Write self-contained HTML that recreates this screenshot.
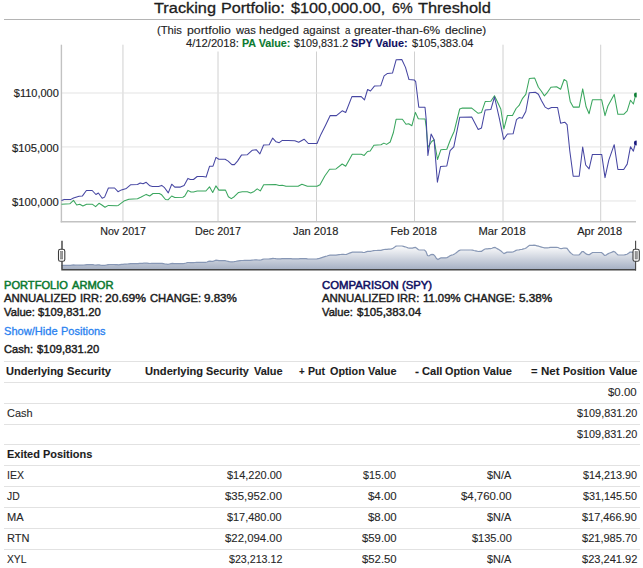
<!DOCTYPE html>
<html lang="en"><head><meta charset="utf-8"><title>Tracking Portfolio</title>
<style>
html,body{margin:0;padding:0;background:#fff}
body{width:643px;height:568px;overflow:hidden;position:relative;font-family:"Liberation Sans",Arial,Helvetica,sans-serif;color:#222}
.g{position:absolute;left:0;top:0;margin:0;font-weight:normal;text-decoration:none;display:block;line-height:1}
.g span,.row span{position:absolute;top:0;white-space:pre;line-height:1;transform-origin:0 0}
.g b,.row b{font-weight:bold}
hr{position:absolute;left:3.7px;top:19px;width:636.4px;height:1px;margin:0;border:0;background:#b4b4b4}
#chart{position:absolute;left:0;top:0}
#positions{display:block;position:absolute;left:0;top:0;font-size:10.8px;color:#272727;border-spacing:0;-webkit-text-stroke:0.1px}
thead,tbody{display:block}
th,td{display:block;padding:0;margin:0;height:0;font-weight:inherit}
.row{display:block;position:absolute;left:3.7px;width:636.0px;height:20.85px;border-top:1px solid #e2e2e2;box-sizing:border-box}
.row.hd,.row .b{font-weight:bold;color:#1d1d1d}
</style></head>
<body>
<svg id="chart" width="643" height="280" viewBox="0 0 643 280" font-family="Liberation Sans, Arial, sans-serif">
<defs><linearGradient id="rg" x1="0" y1="0" x2="0" y2="1"><stop offset="0" stop-color="#ffffff"/><stop offset="1" stop-color="#a7b1c4"/></linearGradient></defs>
<line x1="122.95" y1="44.7" x2="122.95" y2="221.5" stroke="#d0d0d0" stroke-width="1"/>
<line x1="218.0" y1="44.7" x2="218.0" y2="221.5" stroke="#d0d0d0" stroke-width="1"/>
<line x1="316.5" y1="44.7" x2="316.5" y2="221.5" stroke="#d0d0d0" stroke-width="1"/>
<line x1="414.5" y1="44.7" x2="414.5" y2="221.5" stroke="#d0d0d0" stroke-width="1"/>
<line x1="503.0" y1="44.7" x2="503.0" y2="221.5" stroke="#d0d0d0" stroke-width="1"/>
<line x1="600.7" y1="44.7" x2="600.7" y2="221.5" stroke="#d0d0d0" stroke-width="1"/>
<line x1="61.5" y1="93.0" x2="636" y2="93.0" stroke="#e3e3e3" stroke-width="1"/>
<line x1="61.5" y1="146.95" x2="636" y2="146.95" stroke="#e3e3e3" stroke-width="1"/>
<line x1="61.5" y1="200.97" x2="636" y2="200.97" stroke="#e3e3e3" stroke-width="1"/>
<rect x="180" y="38" width="300" height="13.5" fill="#fff"/>
<line x1="61.4" y1="44.7" x2="61.4" y2="222.4" stroke="#c2c2c2" stroke-width="1.4"/>
<line x1="60.7" y1="221.8" x2="636" y2="221.8" stroke="#c2c2c2" stroke-width="1.4"/>
<polyline fill="none" stroke="#3aa65e" stroke-width="1.05" stroke-linejoin="round" points="61.5,204.2 69.8,203.8 73.5,200.4 76.7,205.0 79.8,204.2 82.9,206.0 86.6,204.2 92.2,204.2 95.6,206.7 99.0,203.3 101.5,204.8 105.0,207.3 108.4,205.4 116.5,205.8 118.3,205.4 123.9,201.1 128.9,199.2 137.5,198.8 141.2,197.0 146.2,194.4 149.7,196.0 153.0,193.5 159.3,193.5 161.7,194.8 165.5,199.5 168.0,199.8 171.7,196.0 174.8,197.5 182.9,197.3 184.8,196.0 187.9,190.4 191.0,192.0 193.5,192.0 197.2,191.0 205.9,191.0 209.5,186.8 212.7,192.5 215.9,185.9 218.9,190.1 225.5,190.1 228.4,196.7 231.3,198.6 234.2,196.7 238.6,192.4 242.3,191.8 247.3,191.8 250.7,193.0 254.1,191.4 257.2,188.9 260.3,190.9 263.7,184.7 275.6,184.5 279.2,185.6 282.3,185.2 286.0,186.2 298.1,186.3 301.9,184.3 307.4,186.3 317.0,186.3 320.0,184.7 324.8,176.0 329.6,169.2 336.0,168.9 342.2,164.0 345.7,166.3 352.3,154.3 361.2,154.3 364.2,155.4 367.5,151.5 370.2,151.0 373.9,145.2 381.0,144.8 383.9,143.1 386.6,144.4 390.2,142.0 393.4,132.5 396.1,119.3 402.4,119.3 406.0,124.2 408.7,123.8 411.9,125.7 415.4,112.4 418.3,118.7 425.1,119.0 426.2,126.9 427.9,147.5 431.7,141.5 434.1,139.8 437.5,159.5 440.9,149.7 446.8,149.3 450.5,139.5 454.2,131.2 459.7,109.0 462.5,108.1 471.7,108.1 478.2,113.3 481.5,112.4 485.2,101.6 490.8,101.3 494.5,95.7 500.8,109.0 503.9,128.8 507.4,115.5 512.5,115.6 516.1,108.5 519.1,105.4 522.6,98.3 525.8,94.3 529.3,78.5 534.7,78.1 538.4,87.2 541.4,91.3 544.4,95.9 547.5,92.3 550.9,87.2 556.6,86.8 560.6,89.2 564.1,79.5 566.7,81.1 570.2,101.4 573.2,107.1 579.2,107.1 582.7,88.9 586.1,106.8 589.1,113.7 592.4,99.8 601.7,99.8 605.0,115.7 607.9,106.0 614.2,94.4 617.9,114.3 623.7,114.3 627.2,110.8 630.5,100.2 633.4,104.0 635.5,95.3"/>
<polyline fill="none" stroke="#4646a2" stroke-width="1.05" stroke-linejoin="round" points="61.5,200.6 64.2,199.4 70.4,199.6 73.5,198.0 79.1,196.3 82.3,196.1 86.4,190.5 92.2,190.5 95.9,194.5 98.4,193.0 102.2,198.3 104.6,197.1 108.4,188.0 114.6,188.0 118.0,191.7 121.4,189.9 126.4,188.4 130.8,184.7 137.5,184.5 140.2,183.0 143.1,183.8 146.2,182.3 149.9,185.8 152.4,186.4 158.6,186.4 161.7,185.4 164.2,187.3 168.3,192.9 171.7,184.2 174.8,187.1 180.4,187.1 184.1,185.4 187.9,178.4 190.3,179.5 193.5,179.5 197.2,176.5 202.8,176.5 206.1,177.1 209.6,166.2 213.0,166.2 216.0,157.4 218.8,159.3 225.1,159.3 228.2,161.1 231.9,164.6 234.4,164.6 237.5,161.1 241.6,154.9 247.4,154.7 252.4,150.2 256.2,149.7 259.9,153.9 263.6,145.0 269.2,144.7 272.7,138.1 276.1,141.8 279.2,142.7 282.3,140.4 288.0,140.6 294.8,140.8 298.7,142.3 304.1,139.2 308.3,143.5 317.0,143.5 320.9,134.4 325.8,124.7 330.2,115.6 336.4,115.6 342.2,110.8 345.7,112.5 351.9,96.6 361.2,96.6 364.5,99.9 367.6,89.5 370.5,91.0 374.4,86.1 380.7,85.8 384.1,75.9 387.5,73.4 392.5,73.1 396.2,59.7 401.8,59.5 405.5,67.4 409.0,79.6 414.2,79.9 415.7,81.7 418.8,107.2 425.0,107.2 426.2,119.4 427.9,155.5 431.1,134.1 434.1,139.8 437.4,182.2 440.6,166.4 446.8,166.0 450.1,150.6 453.8,146.9 459.7,117.3 471.7,117.0 478.2,129.4 481.5,127.9 485.2,110.0 490.8,109.6 494.5,97.0 499.5,119.2 503.7,139.5 507.4,134.0 513.1,133.8 516.5,119.6 519.1,117.6 522.2,118.2 525.8,111.5 529.3,92.7 535.3,92.3 538.4,94.3 541.4,100.4 545.1,107.1 548.1,108.9 551.5,107.5 557.6,107.5 560.6,123.2 564.7,122.2 567.1,124.7 569.8,151.0 573.2,176.3 579.2,176.3 582.7,147.0 585.7,165.0 589.1,168.9 592.4,154.4 601.7,154.4 605.0,177.6 608.8,160.2 614.2,144.7 617.9,169.5 623.7,169.5 627.2,164.1 630.5,146.7 633.4,151.1 635.5,142.8"/>
<clipPath id="pc"><rect x="61" y="44" width="575.7" height="178"/></clipPath>
<g clip-path="url(#pc)"><circle cx="636.3" cy="95.0" r="2.4" fill="#0f7f36"/><circle cx="636.3" cy="143.0" r="2.4" fill="#17177c"/></g>
<text x="13.8" y="97.4" font-size="10.6" fill="#1d1d1d" stroke="#1d1d1d" stroke-width="0.15" textLength="45.0" lengthAdjust="spacingAndGlyphs">$110,000</text>
<text x="12.0" y="151.5" font-size="10.6" fill="#1d1d1d" stroke="#1d1d1d" stroke-width="0.15" textLength="46.8" lengthAdjust="spacingAndGlyphs">$105,000</text>
<text x="12.0" y="205.5" font-size="10.6" fill="#1d1d1d" stroke="#1d1d1d" stroke-width="0.15" textLength="46.8" lengthAdjust="spacingAndGlyphs">$100,000</text>
<text x="100.2" y="235.3" font-size="10.6" fill="#1d1d1d" stroke="#1d1d1d" stroke-width="0.15" textLength="45.8" lengthAdjust="spacingAndGlyphs">Nov 2017</text>
<text x="195.0" y="235.3" font-size="10.6" fill="#1d1d1d" stroke="#1d1d1d" stroke-width="0.15" textLength="46.1" lengthAdjust="spacingAndGlyphs">Dec 2017</text>
<text x="292.9" y="235.3" font-size="10.6" fill="#1d1d1d" stroke="#1d1d1d" stroke-width="0.15" textLength="45.4" lengthAdjust="spacingAndGlyphs">Jan 2018</text>
<text x="390.4" y="235.3" font-size="10.6" fill="#1d1d1d" stroke="#1d1d1d" stroke-width="0.15" textLength="46.5" lengthAdjust="spacingAndGlyphs">Feb 2018</text>
<text x="478.5" y="235.3" font-size="10.6" fill="#1d1d1d" stroke="#1d1d1d" stroke-width="0.15" textLength="47.3" lengthAdjust="spacingAndGlyphs">Mar 2018</text>
<text x="577.2" y="235.3" font-size="10.6" fill="#1d1d1d" stroke="#1d1d1d" stroke-width="0.15" textLength="44.9" lengthAdjust="spacingAndGlyphs">Apr 2018</text>
<polygon points="61.5,269 61.5,265.5 63.0,265.4 64.5,265.4 66.0,265.4 67.5,265.4 69.0,265.4 70.5,265.3 72.0,265.1 73.5,264.9 75.0,265.1 76.5,265.2 78.0,265.2 79.5,265.1 81.0,265.2 82.5,265.2 84.0,265.0 85.5,264.8 87.0,264.6 88.5,264.6 90.0,264.6 91.5,264.6 93.0,264.7 94.5,265.0 96.0,265.1 97.5,264.9 99.0,264.8 100.5,265.1 102.0,265.3 103.5,265.4 105.0,265.4 106.5,265.0 108.0,264.6 109.5,264.5 111.0,264.5 112.5,264.5 114.0,264.5 115.5,264.6 117.0,264.7 118.5,264.8 120.0,264.6 121.5,264.4 123.0,264.3 124.5,264.2 126.0,264.1 127.5,264.0 129.0,263.8 130.5,263.7 132.0,263.7 133.5,263.6 135.0,263.6 136.5,263.6 138.0,263.6 139.5,263.4 141.0,263.4 142.5,263.3 144.0,263.2 145.5,263.1 147.0,263.1 148.5,263.3 150.0,263.5 151.5,263.4 153.0,263.3 154.5,263.3 156.0,263.3 157.5,263.3 159.0,263.3 160.5,263.3 162.0,263.4 163.5,263.7 165.0,264.0 166.5,264.2 168.0,264.4 169.5,264.0 171.0,263.6 172.5,263.4 174.0,263.6 175.5,263.7 177.0,263.7 178.5,263.7 180.0,263.7 181.5,263.7 183.0,263.6 184.5,263.4 186.0,263.0 187.5,262.5 189.0,262.5 190.5,262.6 192.0,262.6 193.5,262.6 195.0,262.5 196.5,262.3 198.0,262.3 199.5,262.3 201.0,262.3 202.5,262.3 204.0,262.3 205.5,262.3 207.0,262.0 208.5,261.4 210.0,261.1 211.5,261.3 213.0,261.4 214.5,260.8 216.0,260.2 217.5,260.4 219.0,260.7 220.5,260.7 222.0,260.7 223.5,260.7 225.0,260.7 226.5,261.0 228.0,261.3 229.5,261.6 231.0,261.8 232.5,261.8 234.0,261.7 235.5,261.5 237.0,261.2 238.5,260.9 240.0,260.7 241.5,260.5 243.0,260.5 244.5,260.4 246.0,260.4 247.5,260.4 249.0,260.4 250.5,260.3 252.0,260.1 253.5,260.0 255.0,259.9 256.5,259.8 258.0,260.0 259.5,260.2 261.0,260.0 262.5,259.4 264.0,259.0 265.5,259.0 267.0,259.0 268.5,259.0 270.0,258.8 271.5,258.6 273.0,258.4 274.5,258.5 276.0,258.7 277.5,258.8 279.0,258.9 280.5,258.8 282.0,258.7 283.5,258.7 285.0,258.7 286.5,258.7 288.0,258.7 289.5,258.7 291.0,258.7 292.5,258.8 294.0,258.8 295.5,258.8 297.0,258.8 298.5,258.9 300.0,258.7 301.5,258.6 303.0,258.5 304.5,258.6 306.0,258.7 307.5,258.9 309.0,259.0 310.5,259.0 312.0,259.0 313.5,259.0 315.0,259.0 316.5,259.0 318.0,258.7 319.5,258.4 321.0,257.9 322.5,257.4 324.0,256.9 325.5,256.4 327.0,256.0 328.5,255.5 330.0,255.1 331.5,255.1 333.0,255.1 334.5,255.1 336.0,255.1 337.5,254.9 339.0,254.7 340.5,254.5 342.0,254.3 343.5,254.4 345.0,254.5 346.5,254.3 348.0,253.7 349.5,253.1 351.0,252.6 352.5,252.2 354.0,252.2 355.5,252.2 357.0,252.2 358.5,252.2 360.0,252.2 361.5,252.2 363.0,252.4 364.5,252.5 366.0,251.9 367.5,251.4 369.0,251.4 370.5,251.4 372.0,251.0 373.5,250.6 375.0,250.5 376.5,250.5 378.0,250.4 379.5,250.4 381.0,250.3 382.5,249.9 384.0,249.5 385.5,249.4 387.0,249.3 388.5,249.2 390.0,249.1 391.5,248.8 393.0,248.2 394.5,247.2 396.0,246.1 397.5,246.0 399.0,246.0 400.5,246.0 402.0,246.0 403.5,246.4 405.0,246.8 406.5,247.3 408.0,247.8 409.5,248.1 411.0,248.2 412.5,248.1 414.0,247.6 415.5,247.3 417.0,248.5 418.5,249.8 420.0,250.0 421.5,250.0 423.0,250.0 424.5,250.0 426.0,251.5 427.5,255.5 429.0,255.9 430.5,254.8 432.0,254.4 433.5,254.6 435.0,256.1 436.5,258.5 438.0,259.6 439.5,258.6 441.0,257.8 442.5,257.8 444.0,257.8 445.5,257.8 447.0,257.6 448.5,256.7 450.0,255.7 451.5,255.2 453.0,254.8 454.5,254.1 456.0,252.9 457.5,251.8 459.0,250.6 460.5,250.0 462.0,250.0 463.5,250.0 465.0,250.0 466.5,250.0 468.0,250.0 469.5,250.0 471.0,250.0 472.5,250.1 474.0,250.5 475.5,250.8 477.0,251.2 478.5,251.5 480.0,251.4 481.5,251.3 483.0,250.3 484.5,249.3 486.0,248.8 487.5,248.8 489.0,248.7 490.5,248.7 492.0,248.2 493.5,247.6 495.0,247.4 496.5,248.3 498.0,249.1 499.5,250.0 501.0,251.0 502.5,252.4 504.0,253.6 505.5,252.9 507.0,252.2 508.5,252.1 510.0,252.1 511.5,252.1 513.0,252.0 514.5,251.2 516.0,250.4 517.5,250.0 519.0,249.8 520.5,249.5 522.0,249.3 523.5,248.9 525.0,248.5 526.5,247.7 528.0,246.4 529.5,245.3 531.0,245.3 532.5,245.3 534.0,245.2 535.5,245.4 537.0,245.8 538.5,246.2 540.0,246.7 541.5,247.1 543.0,247.5 544.5,247.9 546.0,247.9 547.5,247.9 549.0,247.7 550.5,247.4 552.0,247.3 553.5,247.3 555.0,247.3 556.5,247.3 558.0,247.5 559.5,248.3 561.0,248.7 562.5,248.4 564.0,248.0 565.5,248.1 567.0,248.4 568.5,250.4 570.0,252.3 571.5,253.6 573.0,254.8 574.5,255.0 576.0,255.0 577.5,255.0 579.0,255.0 580.5,253.5 582.0,251.7 583.5,251.7 585.0,253.1 586.5,254.1 588.0,254.6 589.5,254.6 591.0,253.5 592.5,252.5 594.0,252.5 595.5,252.5 597.0,252.5 598.5,252.5 600.0,252.5 601.5,252.5 603.0,253.8 604.5,255.3 606.0,255.2 607.5,254.1 609.0,253.3 610.5,252.7 612.0,252.1 613.5,251.4 615.0,252.0 616.5,253.6 618.0,255.0 619.5,255.0 621.0,255.0 622.5,255.0 624.0,255.0 625.5,254.6 627.0,254.3 628.5,253.3 630.0,252.2 631.5,252.1 633.0,252.4 634.5,251.8 635.5,269" fill="url(#rg)"/>
<polyline points="61.5,265.5 63.0,265.4 64.5,265.4 66.0,265.4 67.5,265.4 69.0,265.4 70.5,265.3 72.0,265.1 73.5,264.9 75.0,265.1 76.5,265.2 78.0,265.2 79.5,265.1 81.0,265.2 82.5,265.2 84.0,265.0 85.5,264.8 87.0,264.6 88.5,264.6 90.0,264.6 91.5,264.6 93.0,264.7 94.5,265.0 96.0,265.1 97.5,264.9 99.0,264.8 100.5,265.1 102.0,265.3 103.5,265.4 105.0,265.4 106.5,265.0 108.0,264.6 109.5,264.5 111.0,264.5 112.5,264.5 114.0,264.5 115.5,264.6 117.0,264.7 118.5,264.8 120.0,264.6 121.5,264.4 123.0,264.3 124.5,264.2 126.0,264.1 127.5,264.0 129.0,263.8 130.5,263.7 132.0,263.7 133.5,263.6 135.0,263.6 136.5,263.6 138.0,263.6 139.5,263.4 141.0,263.4 142.5,263.3 144.0,263.2 145.5,263.1 147.0,263.1 148.5,263.3 150.0,263.5 151.5,263.4 153.0,263.3 154.5,263.3 156.0,263.3 157.5,263.3 159.0,263.3 160.5,263.3 162.0,263.4 163.5,263.7 165.0,264.0 166.5,264.2 168.0,264.4 169.5,264.0 171.0,263.6 172.5,263.4 174.0,263.6 175.5,263.7 177.0,263.7 178.5,263.7 180.0,263.7 181.5,263.7 183.0,263.6 184.5,263.4 186.0,263.0 187.5,262.5 189.0,262.5 190.5,262.6 192.0,262.6 193.5,262.6 195.0,262.5 196.5,262.3 198.0,262.3 199.5,262.3 201.0,262.3 202.5,262.3 204.0,262.3 205.5,262.3 207.0,262.0 208.5,261.4 210.0,261.1 211.5,261.3 213.0,261.4 214.5,260.8 216.0,260.2 217.5,260.4 219.0,260.7 220.5,260.7 222.0,260.7 223.5,260.7 225.0,260.7 226.5,261.0 228.0,261.3 229.5,261.6 231.0,261.8 232.5,261.8 234.0,261.7 235.5,261.5 237.0,261.2 238.5,260.9 240.0,260.7 241.5,260.5 243.0,260.5 244.5,260.4 246.0,260.4 247.5,260.4 249.0,260.4 250.5,260.3 252.0,260.1 253.5,260.0 255.0,259.9 256.5,259.8 258.0,260.0 259.5,260.2 261.0,260.0 262.5,259.4 264.0,259.0 265.5,259.0 267.0,259.0 268.5,259.0 270.0,258.8 271.5,258.6 273.0,258.4 274.5,258.5 276.0,258.7 277.5,258.8 279.0,258.9 280.5,258.8 282.0,258.7 283.5,258.7 285.0,258.7 286.5,258.7 288.0,258.7 289.5,258.7 291.0,258.7 292.5,258.8 294.0,258.8 295.5,258.8 297.0,258.8 298.5,258.9 300.0,258.7 301.5,258.6 303.0,258.5 304.5,258.6 306.0,258.7 307.5,258.9 309.0,259.0 310.5,259.0 312.0,259.0 313.5,259.0 315.0,259.0 316.5,259.0 318.0,258.7 319.5,258.4 321.0,257.9 322.5,257.4 324.0,256.9 325.5,256.4 327.0,256.0 328.5,255.5 330.0,255.1 331.5,255.1 333.0,255.1 334.5,255.1 336.0,255.1 337.5,254.9 339.0,254.7 340.5,254.5 342.0,254.3 343.5,254.4 345.0,254.5 346.5,254.3 348.0,253.7 349.5,253.1 351.0,252.6 352.5,252.2 354.0,252.2 355.5,252.2 357.0,252.2 358.5,252.2 360.0,252.2 361.5,252.2 363.0,252.4 364.5,252.5 366.0,251.9 367.5,251.4 369.0,251.4 370.5,251.4 372.0,251.0 373.5,250.6 375.0,250.5 376.5,250.5 378.0,250.4 379.5,250.4 381.0,250.3 382.5,249.9 384.0,249.5 385.5,249.4 387.0,249.3 388.5,249.2 390.0,249.1 391.5,248.8 393.0,248.2 394.5,247.2 396.0,246.1 397.5,246.0 399.0,246.0 400.5,246.0 402.0,246.0 403.5,246.4 405.0,246.8 406.5,247.3 408.0,247.8 409.5,248.1 411.0,248.2 412.5,248.1 414.0,247.6 415.5,247.3 417.0,248.5 418.5,249.8 420.0,250.0 421.5,250.0 423.0,250.0 424.5,250.0 426.0,251.5 427.5,255.5 429.0,255.9 430.5,254.8 432.0,254.4 433.5,254.6 435.0,256.1 436.5,258.5 438.0,259.6 439.5,258.6 441.0,257.8 442.5,257.8 444.0,257.8 445.5,257.8 447.0,257.6 448.5,256.7 450.0,255.7 451.5,255.2 453.0,254.8 454.5,254.1 456.0,252.9 457.5,251.8 459.0,250.6 460.5,250.0 462.0,250.0 463.5,250.0 465.0,250.0 466.5,250.0 468.0,250.0 469.5,250.0 471.0,250.0 472.5,250.1 474.0,250.5 475.5,250.8 477.0,251.2 478.5,251.5 480.0,251.4 481.5,251.3 483.0,250.3 484.5,249.3 486.0,248.8 487.5,248.8 489.0,248.7 490.5,248.7 492.0,248.2 493.5,247.6 495.0,247.4 496.5,248.3 498.0,249.1 499.5,250.0 501.0,251.0 502.5,252.4 504.0,253.6 505.5,252.9 507.0,252.2 508.5,252.1 510.0,252.1 511.5,252.1 513.0,252.0 514.5,251.2 516.0,250.4 517.5,250.0 519.0,249.8 520.5,249.5 522.0,249.3 523.5,248.9 525.0,248.5 526.5,247.7 528.0,246.4 529.5,245.3 531.0,245.3 532.5,245.3 534.0,245.2 535.5,245.4 537.0,245.8 538.5,246.2 540.0,246.7 541.5,247.1 543.0,247.5 544.5,247.9 546.0,247.9 547.5,247.9 549.0,247.7 550.5,247.4 552.0,247.3 553.5,247.3 555.0,247.3 556.5,247.3 558.0,247.5 559.5,248.3 561.0,248.7 562.5,248.4 564.0,248.0 565.5,248.1 567.0,248.4 568.5,250.4 570.0,252.3 571.5,253.6 573.0,254.8 574.5,255.0 576.0,255.0 577.5,255.0 579.0,255.0 580.5,253.5 582.0,251.7 583.5,251.7 585.0,253.1 586.5,254.1 588.0,254.6 589.5,254.6 591.0,253.5 592.5,252.5 594.0,252.5 595.5,252.5 597.0,252.5 598.5,252.5 600.0,252.5 601.5,252.5 603.0,253.8 604.5,255.3 606.0,255.2 607.5,254.1 609.0,253.3 610.5,252.7 612.0,252.1 613.5,251.4 615.0,252.0 616.5,253.6 618.0,255.0 619.5,255.0 621.0,255.0 622.5,255.0 624.0,255.0 625.5,254.6 627.0,254.3 628.5,253.3 630.0,252.2 631.5,252.1 633.0,252.4 634.5,251.8" fill="none" stroke="#8797b5" stroke-width="1.2"/>
<polyline points="62.0,240.8 62.0,269.8 636.0,269.8" fill="none" stroke="#454545" stroke-width="1.45"/>
<line x1="635.6" y1="240.8" x2="635.6" y2="270.5" stroke="#454545" stroke-width="1.1"/>
<rect x="58.5" y="249.3" width="6.3" height="12" rx="1.9" fill="#fff" stroke="#3c3c3c" stroke-width="1.1"/>
<rect x="60.55" y="251.6" width="2.2" height="7.4" fill="#9c9c9c" stroke="#6c6c6c" stroke-width="0.5"/>
<rect x="633.0" y="249.3" width="6.3" height="12" rx="1.9" fill="#fff" stroke="#3c3c3c" stroke-width="1.1"/>
<rect x="635.05" y="251.6" width="2.2" height="7.4" fill="#9c9c9c" stroke="#6c6c6c" stroke-width="0.5"/>
</svg>
<h2 id="title" class="g" style="top:-0.07px;font-size:15.2px;color:#1d1d1d;-webkit-text-stroke:0.3px;"><span style="left:154.33px;transform:scaleX(1.0751)">Tracking </span><span style="left:221.47px;transform:scaleX(1.0628)">Portfolio: </span><span style="left:290.83px;transform:scaleX(1.0624)">$100,000.00, </span><span style="left:391.97px;transform:scaleX(0.9399)">6% </span><span style="left:417.93px;transform:scaleX(1.0781)">Threshold</span></h2>
<hr>
<div id="sub1" class="g" style="top:24.76px;font-size:10.8px;color:#222;-webkit-text-stroke:0.12px;"><span style="left:157.30px;transform:scaleX(1.0418)">(This </span><span style="left:187.00px;transform:scaleX(1.1429)">portfolio </span><span style="left:235.62px;transform:scaleX(1.0303)">was </span><span style="left:259.37px;transform:scaleX(1.1045)">hedged </span><span style="left:302.92px;transform:scaleX(1.0528)">against </span><span style="left:344.69px;transform:scaleX(0.8998)">a </span><span style="left:354.30px;transform:scaleX(1.1050)">greater-than-6% </span><span style="left:445.21px;transform:scaleX(1.0902)">decline)</span></div>
<div id="legend" class="g" style="top:37.96px;font-size:10.8px;color:#222;-webkit-text-stroke:0.12px;"><span style="left:185.74px;transform:scaleX(1.0359)">4/12/2018: </span><span style="left:241.78px;transform:scaleX(0.9947);color:#0b7a30"><b>PA Value: </b></span><span style="left:293.88px;transform:scaleX(1.0021)">$109,831.2 </span><span style="left:350.99px;transform:scaleX(1.0079);color:#0f0f62"><b>SPY Value: </b></span><span style="left:411.88px;transform:scaleX(1.0232)">$105,383.04</span></div>
<div id="pa_h" class="g" style="top:279.56px;font-size:10.8px;color:#0b7a30;-webkit-text-stroke:0.5px;"><span style="left:3.79px;transform:scaleX(1.0280)">PORTFOLIO </span><span style="left:71.88px;transform:scaleX(1.0332)">ARMOR</span></div>
<div id="pa_1" class="g" style="top:292.96px;font-size:10.8px;color:#1d1d1d;-webkit-text-stroke:0.42px;"><span style="left:4.18px;transform:scaleX(1.0579)">ANNUALIZED </span><span style="left:79.57px;transform:scaleX(1.0292)">IRR: </span><span style="left:105.49px;transform:scaleX(1.1177)">20.69% </span><span style="left:149.53px;transform:scaleX(1.0405)">CHANGE: </span><span style="left:204.26px;transform:scaleX(1.0729)">9.83%</span></div>
<div id="pa_2" class="g" style="top:307.36px;font-size:10.8px;color:#1d1d1d;-webkit-text-stroke:0.42px;"><span style="left:4.15px;transform:scaleX(1.0390)">Value: </span><span style="left:38.48px;transform:scaleX(1.0452)">$109,831.20</span></div>
<a id="toggle" class="g" href="#" style="top:325.56px;font-size:10.8px;color:#2a82f0;-webkit-text-stroke:0.3px;"><span style="left:3.70px;transform:scaleX(1.0283)">Show/Hide </span><span style="left:60.70px;transform:scaleX(1.0180)">Positions</span></a>
<div id="cash" class="g" style="top:343.86px;font-size:10.8px;color:#1d1d1d;-webkit-text-stroke:0.42px;"><span style="left:3.64px;transform:scaleX(1.0268)">Cash: </span><span style="left:36.68px;transform:scaleX(1.0368)">$109,831.20</span></div>
<div id="spy_h" class="g" style="top:279.56px;font-size:10.8px;color:#0f0f62;-webkit-text-stroke:0.5px;"><span style="left:322.12px;transform:scaleX(1.0509)">COMPARISON </span><span style="left:402.20px;transform:scaleX(1.0453)">(SPY)</span></div>
<div id="spy_1" class="g" style="top:292.96px;font-size:10.8px;color:#1d1d1d;-webkit-text-stroke:0.42px;"><span style="left:322.18px;transform:scaleX(1.0579)">ANNUALIZED </span><span style="left:397.47px;transform:scaleX(1.0292)">IRR: </span><span style="left:423.24px;transform:scaleX(1.0456)">11.09% </span><span style="left:463.83px;transform:scaleX(1.0405)">CHANGE: </span><span style="left:518.73px;transform:scaleX(1.0870)">5.38%</span></div>
<div id="spy_2" class="g" style="top:307.36px;font-size:10.8px;color:#1d1d1d;-webkit-text-stroke:0.42px;"><span style="left:322.15px;transform:scaleX(1.0355)">Value: </span><span style="left:356.58px;transform:scaleX(1.0685)">$105,383.04</span></div>
<table id="positions">
<thead><tr class="row hd" style="top:361.00px"><th><span style="left:2.54px;top:4.06px;transform:scaleX(1.0215)">Underlying </span><span style="left:63.68px;top:4.06px;transform:scaleX(1.0346)">Security</span></th><th><span style="left:141.23px;top:4.06px;transform:scaleX(1.0305)">Underlying </span><span style="left:202.49px;top:4.06px;transform:scaleX(1.0038)">Security </span><span style="left:249.83px;top:4.06px;transform:scaleX(1.0153)">Value</span></th><th><span style="left:295.59px;top:4.06px;transform:scaleX(0.9038)">+ </span><span style="left:304.79px;top:4.06px;transform:scaleX(0.9848)">Put </span><span style="left:325.96px;top:4.06px;transform:scaleX(0.9980)">Option </span><span style="left:364.63px;top:4.06px;transform:scaleX(1.0081)">Value</span></th><th><span style="left:411.13px;top:4.06px;transform:scaleX(1.1252)">- </span><span style="left:418.04px;top:4.06px;transform:scaleX(1.0320)">Call </span><span style="left:440.96px;top:4.06px;transform:scaleX(0.9980)">Option </span><span style="left:479.62px;top:4.06px;transform:scaleX(1.0225)">Value</span></th><th><span style="left:527.24px;top:4.06px;transform:scaleX(1.0330)">= </span><span style="left:537.23px;top:4.06px;transform:scaleX(1.0694)">Net </span><span style="left:559.09px;top:4.06px;transform:scaleX(0.9878)">Position </span><span style="left:605.13px;top:4.06px;transform:scaleX(1.0045)">Value</span></th></tr></thead>
<tbody>
<tr class="row" style="top:381.85px"><td></td><td></td><td></td><td></td><td><span style="left:604.78px;top:4.21px;transform:scaleX(1.0606)">$0.00</span></td></tr>
<tr class="row" style="top:402.70px"><td><span style="left:3.24px;top:4.36px;transform:scaleX(1.0138)">Cash</span></td><td></td><td></td><td></td><td><span style="left:573.08px;top:4.36px;transform:scaleX(1.0049)">$109,831.20</span></td></tr>
<tr class="row" style="top:423.55px"><td></td><td></td><td></td><td></td><td><span style="left:573.08px;top:4.51px;transform:scaleX(1.0049)">$109,831.20</span></td></tr>
<tr class="row" style="top:444.40px"><td><span class="b" style="left:3.07px;top:3.86px;transform:scaleX(1.0153)">Exited Positions</span></td><td></td><td></td><td></td><td></td></tr>
<tr class="row" style="top:465.25px"><td><span style="left:2.83px;top:3.81px;transform:scaleX(0.9702)">IEX</span></td><td><span style="left:223.18px;top:3.81px;transform:scaleX(1.0167)">$14,220.00</span></td><td><span style="left:359.78px;top:3.81px;transform:scaleX(0.9971)">$15.00</span></td><td><span style="left:483.58px;top:3.81px;transform:scaleX(1.0093)">$N/A</span></td><td><span style="left:579.38px;top:3.81px;transform:scaleX(0.9998)">$14,213.90</span></td></tr>
<tr class="row" style="top:486.10px"><td><span style="left:3.64px;top:3.96px;transform:scaleX(0.9587)">JD</span></td><td><span style="left:221.18px;top:3.96px;transform:scaleX(1.0540)">$35,952.00</span></td><td><span style="left:364.08px;top:3.96px;transform:scaleX(1.0606)">$4.00</span></td><td><span style="left:457.58px;top:3.96px;transform:scaleX(1.0545)">$4,760.00</span></td><td><span style="left:579.38px;top:3.96px;transform:scaleX(0.9998)">$31,145.50</span></td></tr>
<tr class="row" style="top:506.95px"><td><span style="left:2.89px;top:4.11px;transform:scaleX(1.0264)">MA</span></td><td><span style="left:223.58px;top:4.11px;transform:scaleX(1.0092)">$17,480.00</span></td><td><span style="left:364.08px;top:4.11px;transform:scaleX(1.0606)">$8.00</span></td><td><span style="left:483.58px;top:4.11px;transform:scaleX(1.0093)">$N/A</span></td><td><span style="left:578.68px;top:4.11px;transform:scaleX(1.0129)">$17,466.90</span></td></tr>
<tr class="row" style="top:527.80px"><td><span style="left:2.89px;top:4.26px;transform:scaleX(1.0231)">RTN</span></td><td><span style="left:221.18px;top:4.26px;transform:scaleX(1.0540)">$22,094.00</span></td><td><span style="left:358.08px;top:4.26px;transform:scaleX(1.0494)">$59.00</span></td><td><span style="left:468.48px;top:4.26px;transform:scaleX(1.0184)">$135.00</span></td><td><span style="left:578.18px;top:4.26px;transform:scaleX(1.0223)">$21,985.70</span></td></tr>
<tr class="row" style="top:548.65px"><td><span style="left:3.57px;top:4.41px;transform:scaleX(0.9535)">XYL</span></td><td><span style="left:224.89px;top:4.41px;transform:scaleX(0.9871)">$23,213.12</span></td><td><span style="left:358.08px;top:4.41px;transform:scaleX(1.0494)">$52.50</span></td><td><span style="left:483.58px;top:4.41px;transform:scaleX(1.0093)">$N/A</span></td><td><span style="left:578.18px;top:4.41px;transform:scaleX(1.0246)">$23,241.92</span></td></tr>
</tbody>
</table>
</body></html>
